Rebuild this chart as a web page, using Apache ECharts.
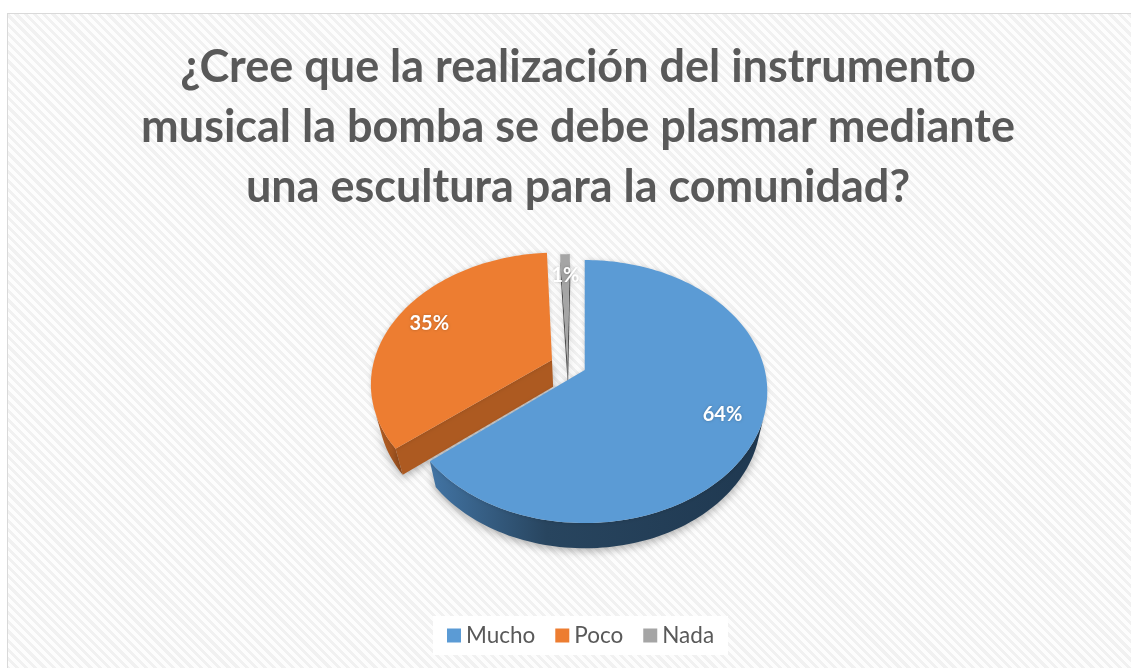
<!DOCTYPE html>
<html>
<head>
<meta charset="utf-8">
<title>Escultura bomba</title>
<script src="https://cdn.jsdelivr.net/npm/echarts@6/dist/echarts.min.js"></script>
<style>
  html, body { margin: 0; padding: 0; background: #fff; overflow: hidden; }
  .frame {
    position: absolute; left: 7px; top: 13px; width: 1140px; height: 670px;
    border: 1px solid #d9d9d9;
    background: repeating-linear-gradient(45deg, #fdfdfd 0px, #fdfdfd 3.5px, #f1f1f1 3.5px, #f1f1f1 6.5px);
  }
  #chart { position: absolute; left: 0; top: 0; width: 1131px; height: 668px; }
</style>
</head>
<body>
<div class="frame"></div>
<div id="chart"></div>
<script>
  // datos de la encuesta
  const categories = ['Mucho', 'Poco', 'Nada']
  const values = [64, 35, 1]

  // estilo de cada porcion
  const colors = ['#5b9bd5', '#ed7d31', '#a5a5a5']
  const sideColors = [
    ['#4274a4', '#28455f', '#1f3850'],
    ['#b65f25', '#ad5a21', '#a25420'],
    ['#8a8a8a', '#555555', '#3c3c3c']
  ]
  // desplazamiento de cada porcion (en radios del pastel)
  const explode = [[0, 0], [-0.184, 0.079], [-0.097, 0.063]]

  // camara del pastel 3D
  const TILT = 45.3 * Math.PI / 180
  const SIN = Math.sin(TILT)
  const COS = Math.cos(TILT)
  const DIST = 4.31
  const THICK = 0.217

  const total = values.reduce((a, b) => a + b, 0)

  function renderItem(params, api) {
    const i = params.dataIndex
    let before = 0
    for (let k = 0; k < i; k++) before += values[k]
    const a0 = before / total * Math.PI * 2
    const a1 = (before + api.value(0)) / total * Math.PI * 2
    const mid = (a0 + a1) / 2
    const ox = explode[i][0]
    const oy = explode[i][1]

    const W = api.getWidth()
    const H = api.getHeight()
    const cx = W * 0.517
    const cy = H * 0.554
    const f = H * 1.162
    const proj = (x, y, z) => {
      const d = DIST + y * COS - z * SIN
      const up = y * SIN + z * COS
      return [cx + f * x / d, cy - f * up / d]
    }
    const camY = -DIST * COS
    const camZ = DIST * SIN
    const visible = (n, p) => (-p[0]) * n[0] + (camY - p[1]) * n[1] + (camZ - p[2]) * n[2] > 0

    const base = Math.round((1 - Math.cos(mid)) * 10) * 10
    const wallStyle = (fill) => ({
      fill: fill,
      shadowBlur: 8,
      shadowColor: 'rgba(0,0,0,0.3)',
      shadowOffsetY: 3
    })
    const grad = new echarts.graphic.LinearGradient(0, 0, 1, 0, [
      { offset: 0, color: sideColors[i][0] },
      { offset: 0.35, color: sideColors[i][1] },
      { offset: 1, color: sideColors[i][2] }
    ])
    const children = []

    // pared exterior
    const N = Math.max(2, Math.ceil((a1 - a0) / (Math.PI / 120)))
    let run = []
    const flush = () => {
      if (run.length > 1) {
        const pts = run.map(t => proj(ox + Math.sin(t), oy + Math.cos(t), 0))
        const bot = run.map(t => proj(ox + Math.sin(t), oy + Math.cos(t), -THICK)).reverse()
        children.push({ type: 'polygon', z2: base, shape: { points: pts.concat(bot) }, style: wallStyle(grad) })
      }
      run = []
    }
    for (let k = 0; k <= N; k++) {
      const t = a0 + (a1 - a0) * k / N
      const n = [Math.sin(t), Math.cos(t), 0]
      const p = [ox + Math.sin(t), oy + Math.cos(t), -THICK / 2]
      if (visible(n, p)) run.push(t)
      else flush()
    }
    flush()

    // paredes radiales
    const radial = (t, n) => {
      const p = [ox + 0.5 * Math.sin(t), oy + 0.5 * Math.cos(t), -THICK / 2]
      if (!visible(n, p)) return
      children.push({
        type: 'polygon',
        z2: base + 1,
        shape: {
          points: [
            proj(ox, oy, 0),
            proj(ox + Math.sin(t), oy + Math.cos(t), 0),
            proj(ox + Math.sin(t), oy + Math.cos(t), -THICK),
            proj(ox, oy, -THICK)
          ]
        },
        style: wallStyle(sideColors[i][1])
      })
    }
    radial(a0, [-Math.cos(a0), Math.sin(a0), 0])
    radial(a1, [Math.cos(a1), -Math.sin(a1), 0])

    // cara superior
    const top = [proj(ox, oy, 0)]
    for (let k = 0; k <= N; k++) {
      const t = a0 + (a1 - a0) * k / N
      top.push(proj(ox + Math.sin(t), oy + Math.cos(t), 0))
    }
    children.push({
      type: 'polygon',
      z2: base + 2,
      shape: { points: top },
      style: { fill: colors[i], shadowBlur: 4, shadowColor: 'rgba(0,0,0,0.15)' }
    })

    // etiqueta
    const lp = proj(ox + 0.8 * Math.sin(mid), oy + 0.78 * Math.cos(mid), 0)
    children.push({
      type: 'text',
      z2: 1000,
      x: lp[0],
      y: lp[1],
      style: {
        text: Math.round(api.value(0) / total * 100) + '%',
        fill: '#fff',
        font: 'bold 20px Lato',
        align: 'center',
        verticalAlign: 'middle',
        textShadowColor: 'rgba(0,0,0,0.25)',
        textShadowBlur: 3
      }
    })
    return { type: 'group', children: children }
  }

  const chart = echarts.init(document.getElementById('chart'))
  chart.setOption({
    backgroundColor: 'transparent',
    color: colors,
    animation: false,
    title: {
      text: '¿Cree que la realización del instrumento\nmusical la bomba se debe plasmar mediante\nuna escultura para la comunidad?',
      left: 573,
      textAlign: 'center',
      top: 32,
      textStyle: {
        fontFamily: 'Lato',
        fontWeight: 'bold',
        fontSize: 45,
        lineHeight: 60,
        color: '#595959'
      }
    },
    legend: {
      data: categories,
      left: 433,
      top: 616,
      icon: 'rect',
      itemWidth: 14,
      itemHeight: 14,
      itemGap: 20,
      padding: [8, 14],
      backgroundColor: '#fff',
      textStyle: { fontFamily: 'Lato', fontSize: 22.5, color: '#595959' }
    },
    series: [
      {
        // solo para la leyenda
        type: 'pie',
        silent: true,
        center: [-50, -50],
        radius: [0, 1],
        label: { show: false },
        data: categories.map((c, i) => ({ name: c, value: values[i] }))
      },
      {
        type: 'custom',
        name: 'Respuestas',
        coordinateSystem: 'none',
        silent: true,
        renderItem: renderItem,
        data: values.map((v, i) => ({ name: categories[i], value: [v] }))
      }
    ]
  })
</script>
</body>
</html>
